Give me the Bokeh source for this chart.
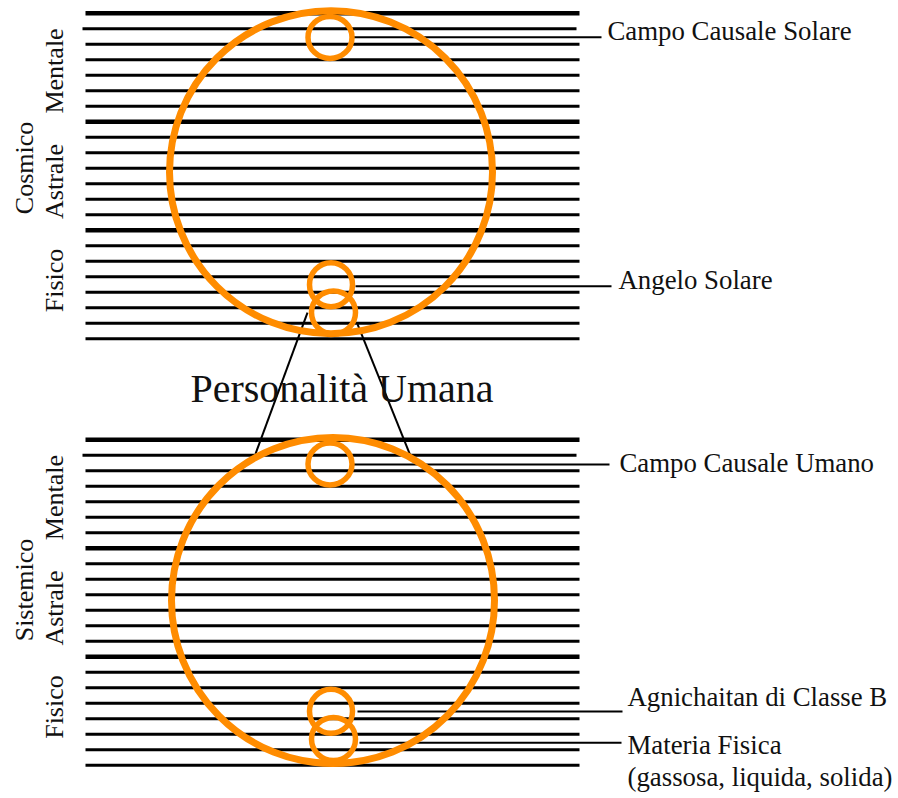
import math
from bokeh.plotting import figure
from bokeh.models import Range1d
from bokeh.core.properties import value
from bokeh.embed import file_html
from bokeh.resources import INLINE

# ---------------- data ----------------
BLOCK_NAMES = ["Cosmico", "Sistemico"]
PLANE_NAMES = ["Mentale", "Astrale", "Fisico"]
SUBPLANES_PER_PLANE = 7
TOP_LABELS = ["Campo Causale Solare", "Campo Causale Umano"]
PAIR_LABELS = [["Angelo Solare"], ["Agnichaitan di Classe B", "Materia Fisica"]]
EXTRA_NOTE = "(gassosa, liquida, solida)"
CENTER_LABEL = "Personalità Umana"

# ---------------- layout ----------------
ORANGE = "#FF8C00"
FONT = value("Liberation Serif")
BLOCK_TOP = [12.7, 439.3]
SPACING = 15.5
LINE_X0, LINE_X1 = 85, 579
PLANE_LABEL_SHIFT = [3.5, 5.5, -4]
BLOCK_LABEL_SHIFT = [-8, -12.5]
LBL_FS, SIDE_FS, BIG_FS = 26.8, 26.0, 40.0
BASE_FIX = 0.35  # baseline correction (fraction of font size)

W, H = 898, 798
p = figure(width=W, height=H, x_range=Range1d(0, W), y_range=Range1d(H, 0),
           output_backend="svg", toolbar_location=None, min_border=0,
           x_axis_location=None, y_axis_location=None)
p.grid.visible = False
p.outline_line_color = None
p.background_fill_color = "white"
p.border_fill_color = "white"

n_lines = SUBPLANES_PER_PLANE * len(PLANE_NAMES) + 1

# horizontal plane lines
x0s, x1s, ys, lws = [], [], [], []
for top in BLOCK_TOP:
    for i in range(n_lines):
        y = top + i * SPACING
        x0s.append(LINE_X0 - (3 if i == 1 else 0))
        x1s.append(LINE_X1 - (3 if i == 1 else 0))
        ys.append(y)
        lws.append(4.6 if (i % SUBPLANES_PER_PLANE == 0 and i < n_lines - 1) else 3.0)
p.segment(x0=x0s, y0=ys, x1=x1s, y1=ys, line_width=lws, line_color="black")

# leader lines
lx0, lx1, ly = [], [], []
leader_specs = [
    (0, 24.0, 352, 601), (0, 273.0, 355, 611),
    (1, 24.7, 353, 609), (1, 271.7, 357, 622), (1, 303.0, 359, 621),
]
for b, dy, a, e in leader_specs:
    lx0.append(a); lx1.append(e); ly.append(BLOCK_TOP[b] + dy)
p.segment(x0=lx0, y0=ly, x1=lx1, y1=ly, line_width=2, line_color="black")

# trapezoid (personality link)
p.segment(x0=[307, 357], y0=[BLOCK_TOP[0] + 299.5, BLOCK_TOP[0] + 311],
          x1=[255, 410], y1=[BLOCK_TOP[1] + 14, BLOCK_TOP[1] + 16],
          line_width=2, line_color="black")

# big circles
cx = [330.5, 332.5]
p.ellipse(x=cx, y=[BLOCK_TOP[0] + 159, BLOCK_TOP[1] + 160.7], width=[323, 323], height=[323, 326],
          fill_color=None, line_color=ORANGE, line_width=7)
# small circles
sx, sy, sw, sh = [], [], [], []
for b in range(2):
    sx += [329.5, 330.5, 333]
    sy += [BLOCK_TOP[b] + 24.2, BLOCK_TOP[b] + 271.5, BLOCK_TOP[b] + 299.3]
    sw += [44, 43, 44]
    sh += [42, 44, 43]
p.ellipse(x=sx, y=sy, width=sw, height=sh, fill_color=None, line_color=ORANGE, line_width=5.5)

# vertical labels (baseline x given; rotated text reads upward)
vx, vy, vt = [], [], []
for b, top in enumerate(BLOCK_TOP):
    for k, name in enumerate(PLANE_NAMES):
        mid = top + (k + 0.5) * SUBPLANES_PER_PLANE * SPACING
        vx.append(63 - BASE_FIX * SIDE_FS); vy.append(mid + PLANE_LABEL_SHIFT[k]); vt.append(name)
    vx.append(33 - BASE_FIX * SIDE_FS)
    vy.append(top + (n_lines - 1) * SPACING / 2 + BLOCK_LABEL_SHIFT[b]); vt.append(BLOCK_NAMES[b])
p.text(x=vx, y=vy, text=vt, angle=math.pi / 2, text_align="center", text_baseline="alphabetic",
       text_font=FONT, text_font_size=value(f"{SIDE_FS}px"), text_color="#111111")

# right annotations
tx = [607, 618, 619, 627, 627, 627]
tyy = [39.5, 288.5, 472, 706, 754, 786]
tyy = [v - BASE_FIX * LBL_FS for v in tyy]
tt = [TOP_LABELS[0], PAIR_LABELS[0][0], TOP_LABELS[1], PAIR_LABELS[1][0], PAIR_LABELS[1][1], EXTRA_NOTE]
p.text(x=tx, y=tyy, text=tt, text_align="left", text_baseline="alphabetic",
       text_font=FONT, text_font_size=value(f"{LBL_FS}px"), text_color="#111111")

# center label
p.text(x=[341.5], y=[401.5 - BASE_FIX * BIG_FS], text=[CENTER_LABEL], text_align="center",
       text_baseline="alphabetic", text_font=FONT, text_font_size=value(f"{BIG_FS}px"),
       text_color="#111111")

open("out.html", "w").write(file_html(p, INLINE))
